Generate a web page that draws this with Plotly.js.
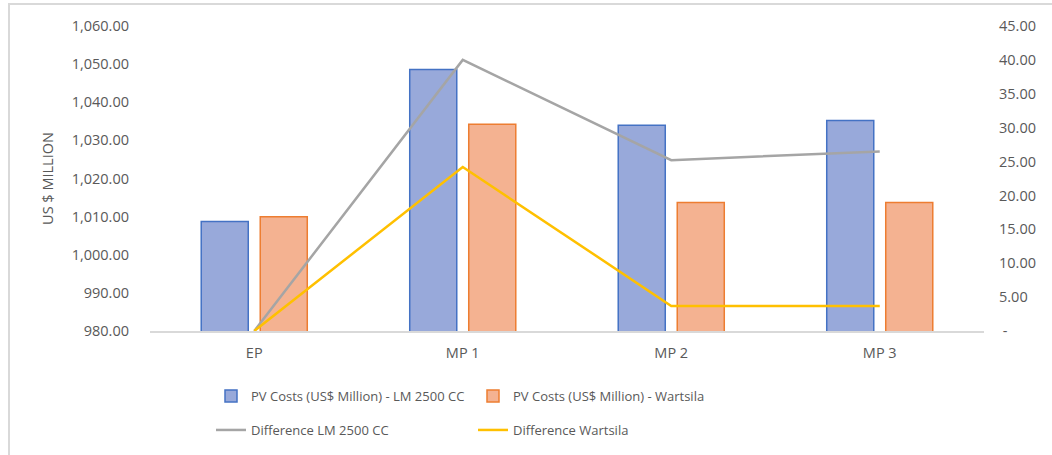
<!DOCTYPE html>
<html><head><meta charset="utf-8">
<script src="https://cdn.plot.ly/plotly-3.0.1.min.js"></script>
<style>
html,body{margin:0;padding:0;background:#fff;}
#wrap{position:relative;width:1052px;height:455px;}
#chart{width:1052px;height:455px;}
#frame{position:absolute;left:8px;top:3px;right:0;bottom:0;border-left:2px solid #d9d9d9;border-top:2px solid #d9d9d9;pointer-events:none;}
</style></head>
<body>
<div id="wrap"><div id="chart"></div><div id="frame"></div></div>
<script>
const categories = ["EP", "MP 1", "MP 2", "MP 3"];
const pvLM2500 = [1008.7, 1048.6, 1034.0, 1035.2];
const pvWartsila = [1010.0, 1034.2, 1013.7, 1013.7];
const diffLM2500 = [0, 40.0, 25.2, 26.5];
const diffWartsila = [0, 24.2, 3.7, 3.7];
const leftTicks = [980, 990, 1000, 1010, 1020, 1030, 1040, 1050, 1060];
const leftTickText = ["980.00","990.00","1,000.00","1,010.00","1,020.00","1,030.00","1,040.00","1,050.00","1,060.00"];
const rightTicks = [0, 5, 10, 15, 20, 25, 30, 35, 40, 45];
const rightTickText = [" -","5.00","10.00","15.00","20.00","25.00","30.00","35.00","40.00","45.00"];

const font = {family: "Open Sans, Calibri, sans-serif", size: 14.5, color: "#595959"};
const legendFont = {family: "Open Sans, Calibri, sans-serif", size: 13, color: "#595959"};

const traces = [
  {type: "bar", x: categories, y: pvLM2500, name: "PV Costs (US$ Million) - LM 2500 CC",
   marker: {color: "#98a9da", line: {color: "#4472c4", width: 1.5}}, legend: "legend"},
  {type: "bar", x: categories, y: pvWartsila, name: "PV Costs (US$ Million) - Wartsila",
   marker: {color: "#f4b291", line: {color: "#ed7d31", width: 1.5}}, legend: "legend"},
  {type: "scatter", mode: "lines", x: categories, y: diffLM2500, yaxis: "y2", name: "Difference LM 2500 CC",
   line: {color: "#a5a5a5", width: 2.5}, legend: "legend2"},
  {type: "scatter", mode: "lines", x: categories, y: diffWartsila, yaxis: "y2", name: "Difference Wartsila",
   line: {color: "#ffc000", width: 2.5}, legend: "legend2"}
];

const legendBase = {orientation: "h", xanchor: "left", yanchor: "middle", yref: "container", font: legendFont,
  entrywidth: 217, entrywidthmode: "pixels", bgcolor: "rgba(0,0,0,0)", itemwidth: 30};

const layout = {
  width: 1052, height: 455,
  margin: {l: 150, r: 68, t: 26, b: 124, autoexpand: false},
  paper_bgcolor: "#fff", plot_bgcolor: "#fff",
  font: font,
  barmode: "group", bargap: 0.434, bargroupgap: 0.203,
  showlegend: true,
  xaxis: {showline: true, linecolor: "#d9d9d9", linewidth: 1.5, ticks: "", showgrid: false, zeroline: false,
          tickfont: font, fixedrange: true, ticklabelstandoff: 8},
  yaxis: {range: [980, 1060], tickvals: leftTicks, ticktext: leftTickText, showgrid: false, zeroline: false,
          showline: false, ticks: "", tickfont: font, ticklabelstandoff: 20,
          title: {text: "US $ MILLION", font: {family: font.family, size: 14.5, color: "#595959"}, standoff: 14}},
  yaxis2: {range: [0, 45], overlaying: "y", side: "right", tickvals: rightTicks, ticktext: rightTickText,
           showgrid: false, zeroline: false, showline: false, ticks: "", tickfont: font, ticklabelstandoff: 14},
  legend: Object.assign({}, legendBase, {x: (211 - 150) / 834, y: 1 - 396 / 455}),
  legend2: Object.assign({}, legendBase, {x: (211 - 150) / 834, y: 1 - 430 / 455})
};

Plotly.newPlot("chart", traces, layout, {displayModeBar: false, staticPlot: true});
</script>
</body></html>
